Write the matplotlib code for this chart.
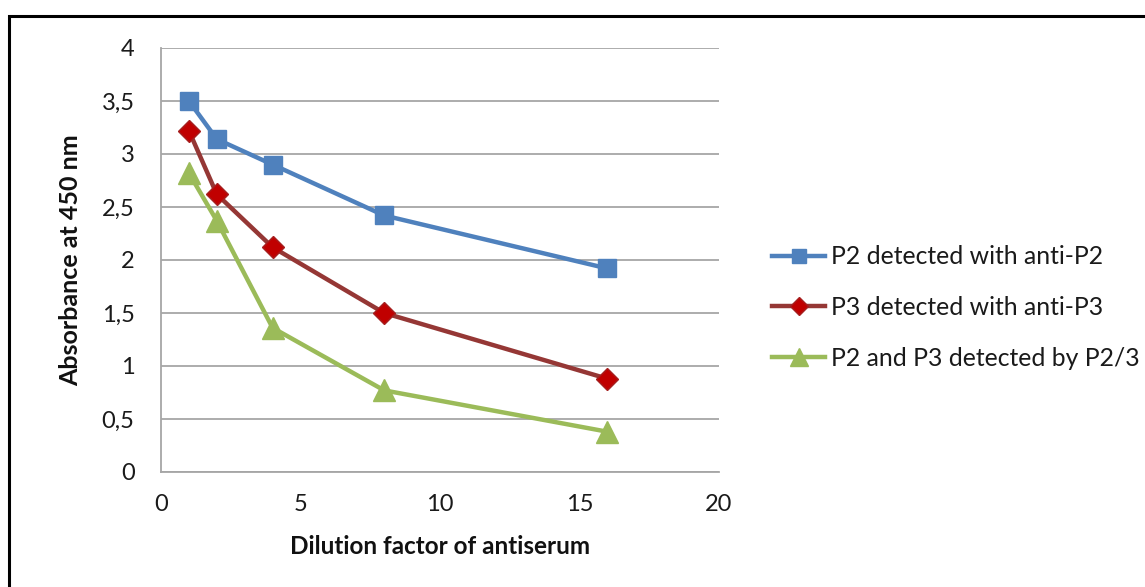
import matplotlib
matplotlib.use("Agg")
import matplotlib.pyplot as plt
from matplotlib.patches import Rectangle

# Data
dilution = [1, 2, 4, 8, 16]
p2_anti_p2 = [3.50, 3.14, 2.90, 2.42, 1.92]
p3_anti_p3 = [3.22, 2.62, 2.12, 1.50, 0.88]
p2_p3_by_p23 = [2.82, 2.37, 1.36, 0.77, 0.38]

series_labels = ["P2 detected with anti-P2",
                 "P3 detected with anti-P3",
                 "P2 and P3 detected by P2/3"]
y_ticks = [0, 0.5, 1, 1.5, 2, 2.5, 3, 3.5, 4]
y_tick_labels = ["0", "0,5", "1", "1,5", "2", "2,5", "3", "3,5", "4"]
x_ticks = [0, 5, 10, 15, 20]
x_tick_labels = ["0", "5", "10", "15", "20"]

plt.rcParams['font.family'] = ['Lato', 'DejaVu Sans']

fig = plt.figure(figsize=(11.45, 5.87), dpi=100)
fig.patch.set_facecolor("white")

# Outer chart frame (open on the right and bottom)
frame = Rectangle((9 / 1145, -0.05), 1.2, 1 - 16 / 587 + 0.05,
                  transform=fig.transFigure, fill=False,
                  edgecolor="black", linewidth=2.2, zorder=0)
fig.patches.append(frame)

ax = fig.add_axes([161 / 1145, 1 - 472 / 587, (719 - 161) / 1145, (472 - 48) / 587])

grid_color = "#A6A6A6"
ax.set_xlim(0, 20)
ax.set_ylim(0, 4)
ax.set_yticks(y_ticks)
ax.set_yticklabels(y_tick_labels)
ax.set_xticks(x_ticks)
ax.set_xticklabels(x_tick_labels)
ax.yaxis.grid(True, color=grid_color, linewidth=1.3)
ax.set_axisbelow(True)
ax.tick_params(length=0, labelsize=17, colors="#1a1a1a")
ax.tick_params(axis="y", pad=19)
ax.tick_params(axis="x", pad=16)
for side in ("top", "right"):
    ax.spines[side].set_visible(False)
for side in ("left", "bottom"):
    ax.spines[side].set_color(grid_color)
    ax.spines[side].set_linewidth(1.3)

ax.plot(dilution, p2_anti_p2, color="#4F81BD", linewidth=3.2,
        marker="s", markersize=13, markerfacecolor="#4F81BD",
        markeredgecolor="#4F81BD", label=series_labels[0], clip_on=False)
ax.plot(dilution, p3_anti_p3, color="#953735", linewidth=3.2,
        marker="D", markersize=11.5, markerfacecolor="#C00000",
        markeredgecolor="#A52020", label=series_labels[1], clip_on=False)
ax.plot(dilution, p2_p3_by_p23, color="#9BBB59", linewidth=3.2,
        marker="^", markersize=15.5, markerfacecolor="#9BBB59",
        markeredgecolor="#9BBB59", label=series_labels[2], clip_on=False)

ax.set_xlabel("Dilution factor of antiserum", fontsize=17.5, fontweight="bold",
              labelpad=14, color="#111111")
ax.set_ylabel("Absorbance at 450 nm", fontsize=18, fontweight="bold",
              labelpad=14, color="#111111")

leg = ax.legend(loc="center left", bbox_to_anchor=((772 - 161) / 558, (472 - 307.5) / 424),
                frameon=False, fontsize=17.8, handlelength=2.15, handletextpad=0.22,
                labelspacing=1.12, markerscale=0.8, borderaxespad=0, borderpad=0)
for t in leg.get_texts():
    t.set_color("#1a1a1a")

fig.savefig("out.png", dpi=100, facecolor="white")
